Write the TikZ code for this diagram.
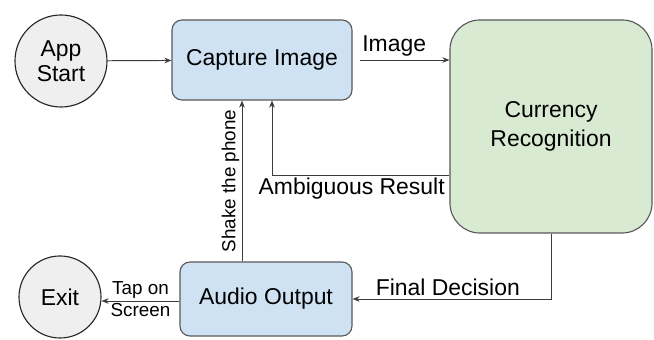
\documentclass[tikz,border=0pt]{standalone}
\usepackage{fontspec}
\setmainfont{Liberation Sans}
\usetikzlibrary{arrows.meta}
\definecolor{termgray}{HTML}{EFEFEF}
\definecolor{procblue}{HTML}{CFE2F3}
\definecolor{recgreen}{HTML}{D9EAD3}
\definecolor{linegray}{HTML}{3C3C3C}
\tikzstyle{terminal}=[draw=black!85, fill=termgray, circle, inner sep=0pt, line width=0.8pt, align=center, font=\fontsize{16.3}{18}\selectfont]
\tikzstyle{process}=[draw=black!65, fill=procblue, rounded corners=0.25cm, line width=0.8pt, align=center, font=\fontsize{16.3}{19}\selectfont]
\tikzstyle{recognizer}=[process, fill=recgreen, rounded corners=0.75cm, font=\fontsize{16.3}{21}\selectfont]
\tikzstyle{flow}=[draw=linegray, line width=0.7pt, -{Stealth[length=5pt,width=4pt]}]
\tikzstyle{flow label}=[font=\fontsize{16.3}{19}\selectfont, inner sep=2pt]
\tikzstyle{small label}=[font=\fontsize{13.4}{15}\selectfont, inner sep=1.5pt]

\begin{document}
\begin{tikzpicture}[x=0.025cm, y=-0.025cm]
      \useasboundingbox (0,0) rectangle (654,340);
      \node[terminal, minimum size=2.3cm] (start) at (61, 61) {App\\Start};
      \node[process, minimum width=4.5cm, minimum height=2cm] (capture) at (262, 60) {Capture Image};
      \node[recognizer, minimum width=5.05cm, minimum height=5.325cm] (currency) at (551, 126.5) {Currency\\Recognition};
      \node[process, minimum width=4.3cm, minimum height=1.85cm] (audio) at (266, 299) {Audio Output};
      \node[terminal, minimum size=2.05cm] (exit) at (60, 297) {Exit};
      \coordinate (amb) at (272, 175);
      \coordinate (shake) at (242, 180);
      \draw[flow] (start) -- (capture);
      \draw[flow, shorten <=5pt] (capture.east) -- node[flow label, above, pos=0.43] {Image} (capture.east -| currency.west);
      \draw[flow] (amb -| currency.west)
        -- node[flow label, below left, pos=0, xshift=-1pt] {Ambiguous Result} (amb)
        -- (amb |- capture.south);
      \draw[flow] (shake |- audio.north)
        -- node[small label, sloped, above, pos=0.5] {Shake the phone} (shake |- capture.south);
      \draw[flow] (currency.south) |- node[flow label, above, pos=0.76] {Final Decision} (audio.east);
      \draw[flow] (audio.west |- 0, 301)
        -- node[small label, above] {Tap on} node[small label, below] {Screen} (exit.east |- 0, 301);
    \end{tikzpicture}
\end{document}
